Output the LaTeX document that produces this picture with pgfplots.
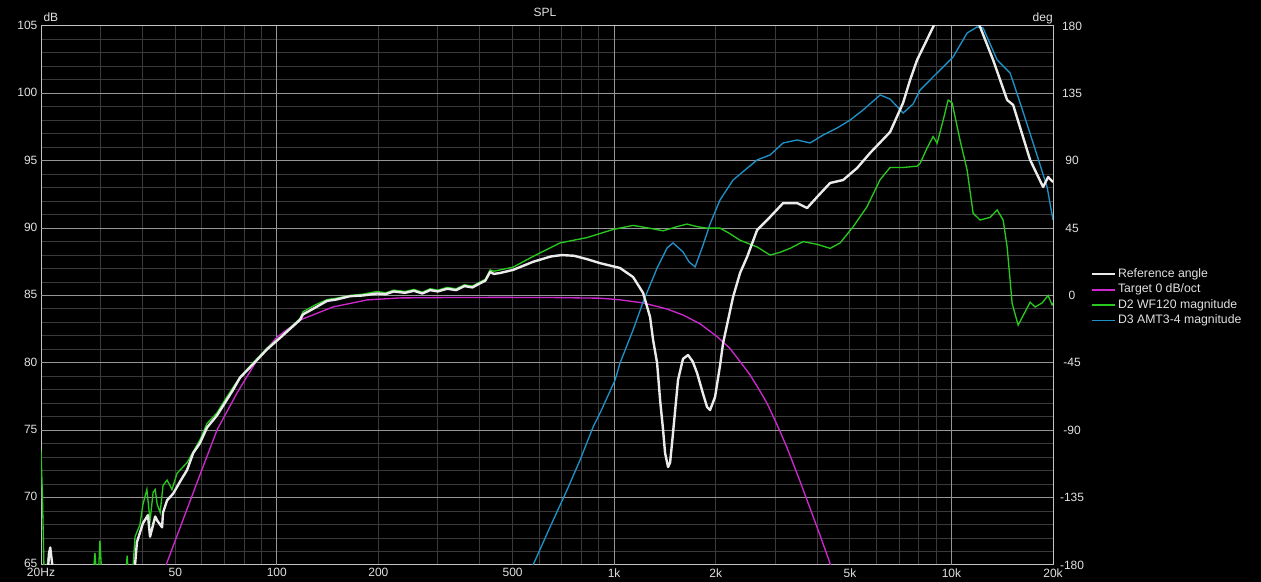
\documentclass[border=0pt]{standalone}
\usepackage{fontspec}
\setmainfont{Liberation Sans}
\usepackage{pgfplots}
\pgfplotsset{compat=1.18}
\definecolor{txt}{RGB}{225,225,225}
\definecolor{gmaj}{RGB}{150,150,150}
\definecolor{gmin}{RGB}{58,58,58}
\definecolor{frame}{RGB}{195,195,195}
\definecolor{cwhite}{RGB}{235,235,235}
\definecolor{cmag}{RGB}{205,40,205}
\definecolor{cgreen}{RGB}{40,200,30}
\definecolor{cblue}{RGB}{30,145,200}
\begin{document}
\begin{tikzpicture}
\fill[black] (0pt,0pt) rectangle (945.75pt,436.5pt);
\useasboundingbox (0pt,0pt) rectangle (945.75pt,436.5pt);
\begin{axis}[
  name=ax,
  at={(30.75pt,12.75pt)}, anchor=south west,
  scale only axis, width=759pt, height=404.25pt,
  xmode=log, xmin=20, xmax=20000, ymin=65, ymax=105,
  axis background/.style={fill=black},
  axis line style={frame, line width=0.75pt},
  major tick length=0pt, minor tick length=0pt,
  xtick={20,50,100,200,500,1000,2000,5000,10000,20000},
  xticklabels={20Hz,50,100,200,500,1k,2k,5k,10k,20k},
  minor xtick={30,40,60,70,80,90,300,400,600,700,800,900,3000,4000,6000,7000,8000,9000},
  ytick={65,70,...,105},
  yticklabels={\raisebox{1.6pt}{65},70,75,80,85,90,95,100,105},
  minor ytick={66,67,...,104},
  grid=both,
  major grid style={gmin, line width=0.75pt},
  minor grid style={gmin, line width=0.75pt},
  extra x ticks={100,1000,10000},
  extra x tick labels={},
  extra x tick style={grid=major, major grid style={gmaj, line width=0.75pt}},
  extra y ticks={70,75,...,100},
  extra y tick labels={},
  extra y tick style={grid=major, major grid style={gmaj, line width=0.75pt}},
  tick label style={font=\fontsize{9}{10.8}\selectfont, text=txt},
  xticklabel style={anchor=north, yshift=-0.8pt, inner sep=1.5pt},
  yticklabel style={yshift=0.6pt, inner sep=2.5pt},
  legend cell align=left,
  legend image code/.code={\draw[#1] (0pt,0pt) -- (17.5pt,0pt);},
  legend style={at={(1,0.5542)}, anchor=north west, xshift=28.25pt, draw=none, fill=none, text=txt,
    font=\fontsize{9.2}{11}\selectfont, inner sep=0pt, row sep=0pt,
    nodes={inner sep=1pt, text height=7pt, text depth=2.6pt}},
  no marks,
]
\addlegendimage{draw=cwhite, line width=1.8pt}
\addlegendentry{Reference angle}
\addlegendimage{draw=cmag, line width=1.2pt}
\addlegendentry{Target 0 dB/oct}
\addlegendimage{draw=cgreen, line width=1.1pt}
\addlegendentry{D2 WF120 magnitude}
\addlegendimage{draw=cblue, line width=1.1pt}
\addlegendentry{D3 AMT3-4 magnitude}

% Target
\addplot[cmag, line width=1pt, forget plot] coordinates {
(45,63.75) (46.96,65.0) (52.7,68.34) (58.4,71.31) (66.5,75.02) (76.2,77.76) (87.4,80.21) (100.2,81.92) (117.2,83.18) (146.8,84.15) (185.2,84.67) (231.9,84.82) (326.4,84.85) (459,84.86) (645.8,84.85) (908.6,84.80) (1041,84.68) (1218.6,84.45) (1435,84.0) (1601,83.55) (1798,82.9) (2019,81.95) (2200,81.1) (2362,80.1) (2530,79.1) (2700,77.95) (2840,77.0) (3042,75.4) (3256,73.7) (3558,71.2) (3733,69.8) (4078,67.2) (4368,65.1) (4600,63.3)
};
% D3 AMT3-4
\addplot[cblue, line width=1pt, forget plot] coordinates {
(563.3,63.89) (575,65.0) (645.8,67.82) (725.2,70.57) (792.6,72.79) (866.2,75.24) (908.6,76.28) (1006.6,78.73) (1041,79.99) (1138,82.44) (1218.6,84.52) (1340.8,87.04) (1435,88.53) (1495,88.90) (1601,88.23) (1668,87.49) (1738,87.12) (1835.6,88.75) (1925,90.31) (2060,92.09) (2252,93.57) (2654,95.06) (2900,95.43) (3169,96.32) (3487,96.54) (3810,96.32) (4164,96.91) (4581,97.43) (5007,98.02) (5470,98.77) (6145,99.88) (6577,99.58) (7186,98.54) (7697,99.21) (8072,100.25) (8822,101.22) (10112,102.70) (11127,104.48) (11914,104.93) (12412,104.85) (13658,102.48) (14924,101.51) (15980,99.29) (17460,96.32) (19210,93.05) (20000,90.60)
};
% D2 WF120
\addplot[cgreen, line width=1pt, forget plot] coordinates {
(20,73.5) (20.2,70) (20.4,65.0) (20.6,64.0) (21.0,65.5) (21.3,66.0) (21.6,65.2) (22.0,63.5)
(28.4,63.5) (28.9,65.9) (29.4,63.5) (29.5,63.5) (29.9,66.8) (30.4,63.5)
(35.5,63.5) (36.0,65.7) (36.5,63.5)
(37.2,63.5) (37.5,64.9) (38.0,67.1) (39.3,68.0) (40.1,69.5) (41.2,70.6) (42.1,68.3) (43.0,70.4) (43.6,70.6) (44.2,69.5) (45.1,68.9) (46.0,70.9) (47.3,71.3) (48.9,70.6) (50.6,71.8) (54.2,72.6) (56.5,73.4) (59.2,74.3) (62.1,75.5) (66.5,76.3) (71.2,77.5) (77.8,78.95) (85.0,80.0) (93.5,81.1) (102.2,81.9) (117.2,83.3) (119.6,83.8) (130,84.3) (140.9,84.7) (150,84.8) (164.9,85.0) (180,85.1) (198.2,85.3) (210,85.2) (222,85.4) (240,85.3) (255,85.45) (270,85.25) (285,85.5) (300,85.4) (320,85.6) (340,85.5) (360,85.8) (380,85.7) (400,86.0) (415,86.2) (428.9,86.9) (440,86.8) (459,86.9) (501.6,87.1) (575,87.9) (691.4,88.9) (831.5,89.3) (992.9,89.9) (1138,90.2) (1270,90.0) (1397,89.8) (1530,90.1) (1645,90.3) (1770,90.1) (1886,90.0) (2060,90.0) (2200,89.6) (2362,89.1) (2654,88.6) (2900,88.0) (3100,88.2) (3324,88.5) (3632,89.0) (3996,88.8) (4368,88.5) (4676,88.9) (5111,90.1) (5622,91.6) (6145,93.6) (6577,94.5) (7186,94.5) (7910,94.6) (8072,94.8) (8468,95.95) (8822,96.8) (9067,96.3) (9446,98.0) (9774,99.5) (10044,99.3) (10607,96.5) (11127,94.3) (11593,91.1) (12160,90.6) (13018,90.8) (13658,91.35) (14228,90.6) (14622,88.6) (15132,84.4) (15764,82.8) (17106,84.5) (17702,84.15) (18568,84.45) (19342,85.0) (19876,84.3) (20000,84.45)
};
% Reference angle
\addplot[cwhite, line width=1.8pt, line join=round, forget plot] coordinates {
(20.9,63.5) (21.1,65.8) (21.3,66.3) (21.6,65.0) (22.0,63.5)
(37.4,63.5) (38.0,65.0) (38.5,66.7) (40.1,68.1) (41.5,68.7) (42.1,67.1) (43.6,68.6) (44.2,68.3) (45.7,67.8) (46.0,68.9) (47.3,69.8) (49.3,70.3) (51.7,71.2) (54.2,72.05) (56.5,73.3) (59.2,74.05) (62.1,75.2) (66.5,76.1) (74.2,78.0) (77.8,78.9) (85.0,79.9) (93.5,81.0) (102.2,81.85) (117.2,83.2) (119.6,83.6) (130,84.1) (140.9,84.6) (150,84.7) (164.9,84.95) (180,85.0) (198.2,85.15) (210,85.1) (222,85.3) (240,85.2) (255,85.35) (270,85.15) (285,85.4) (300,85.3) (320,85.5) (340,85.4) (360,85.7) (380,85.6) (400,85.9) (415,86.1) (428.9,86.75) (440,86.6) (459,86.67) (501.6,86.9) (575,87.5) (650,87.9) (700,88.0) (760,87.95) (830,87.7) (908.6,87.4) (1041,87.04) (1138,86.37) (1218.6,85.19) (1278,83.4) (1304.6,81.7) (1340.8,79.99) (1368.6,77.24) (1397,75.0) (1415.8,73.31) (1445,72.27) (1465,72.6) (1485,74.05) (1546.6,78.73) (1600,80.3) (1656.6,80.58) (1710,80.1) (1761.6,79.25) (1830,77.8) (1886,76.72) (1925,76.5) (1991.8,77.47) (2060,79.8) (2104,81.48) (2252,84.89) (2362,86.67) (2478,87.86) (2654,89.86) (2900,90.83) (3169,91.86) (3487,91.86) (3733,91.49) (3996,92.31) (4368,93.35) (4773,93.57) (5252,94.46) (5739,95.58) (6577,97.13) (7186,99.29) (7540,100.99) (7910,102.48) (8822,104.93) (9256,106.04) (10607,106.56) (11752,105.82) (12160,104.93) (13288,102.48) (14622,99.51) (15234,99.14) (17106,95.06) (18694,93.05) (19342,93.79) (20000,93.42)
};
\end{axis}
\begin{axis}[
  at={(30.75pt,12.75pt)}, anchor=south west,
  scale only axis, width=759pt, height=404.25pt,
  xmode=log, xmin=20, xmax=20000, ymin=-180, ymax=180,
  axis x line=none, axis y line*=right,
  axis line style={frame, line width=0.75pt},
  major tick length=0pt, minor tick length=0pt,
  ytick={-180,-135,...,180},
  yticklabels={-180,-135,-90,-45,0,45,90,135,180},
  yticklabel style={anchor=center, xshift=14.25pt, font=\fontsize{9}{10.8}\selectfont, text=txt},
]
\end{axis}
\node[anchor=base west, inner sep=0pt, text=txt, font=\fontsize{9}{10.8}\selectfont] at (ax.north west) [xshift=1.7pt, yshift=3.2pt] {dB};
\node[anchor=base east, inner sep=0pt, text=txt, font=\fontsize{9}{10.8}\selectfont] at (ax.north east) [yshift=3.2pt] {deg};
\node[anchor=base, inner sep=0pt, text=txt, font=\fontsize{9}{10.8}\selectfont] at (ax.north) [xshift=-1.5pt, yshift=6.75pt] {SPL};
\end{tikzpicture}
\end{document}
